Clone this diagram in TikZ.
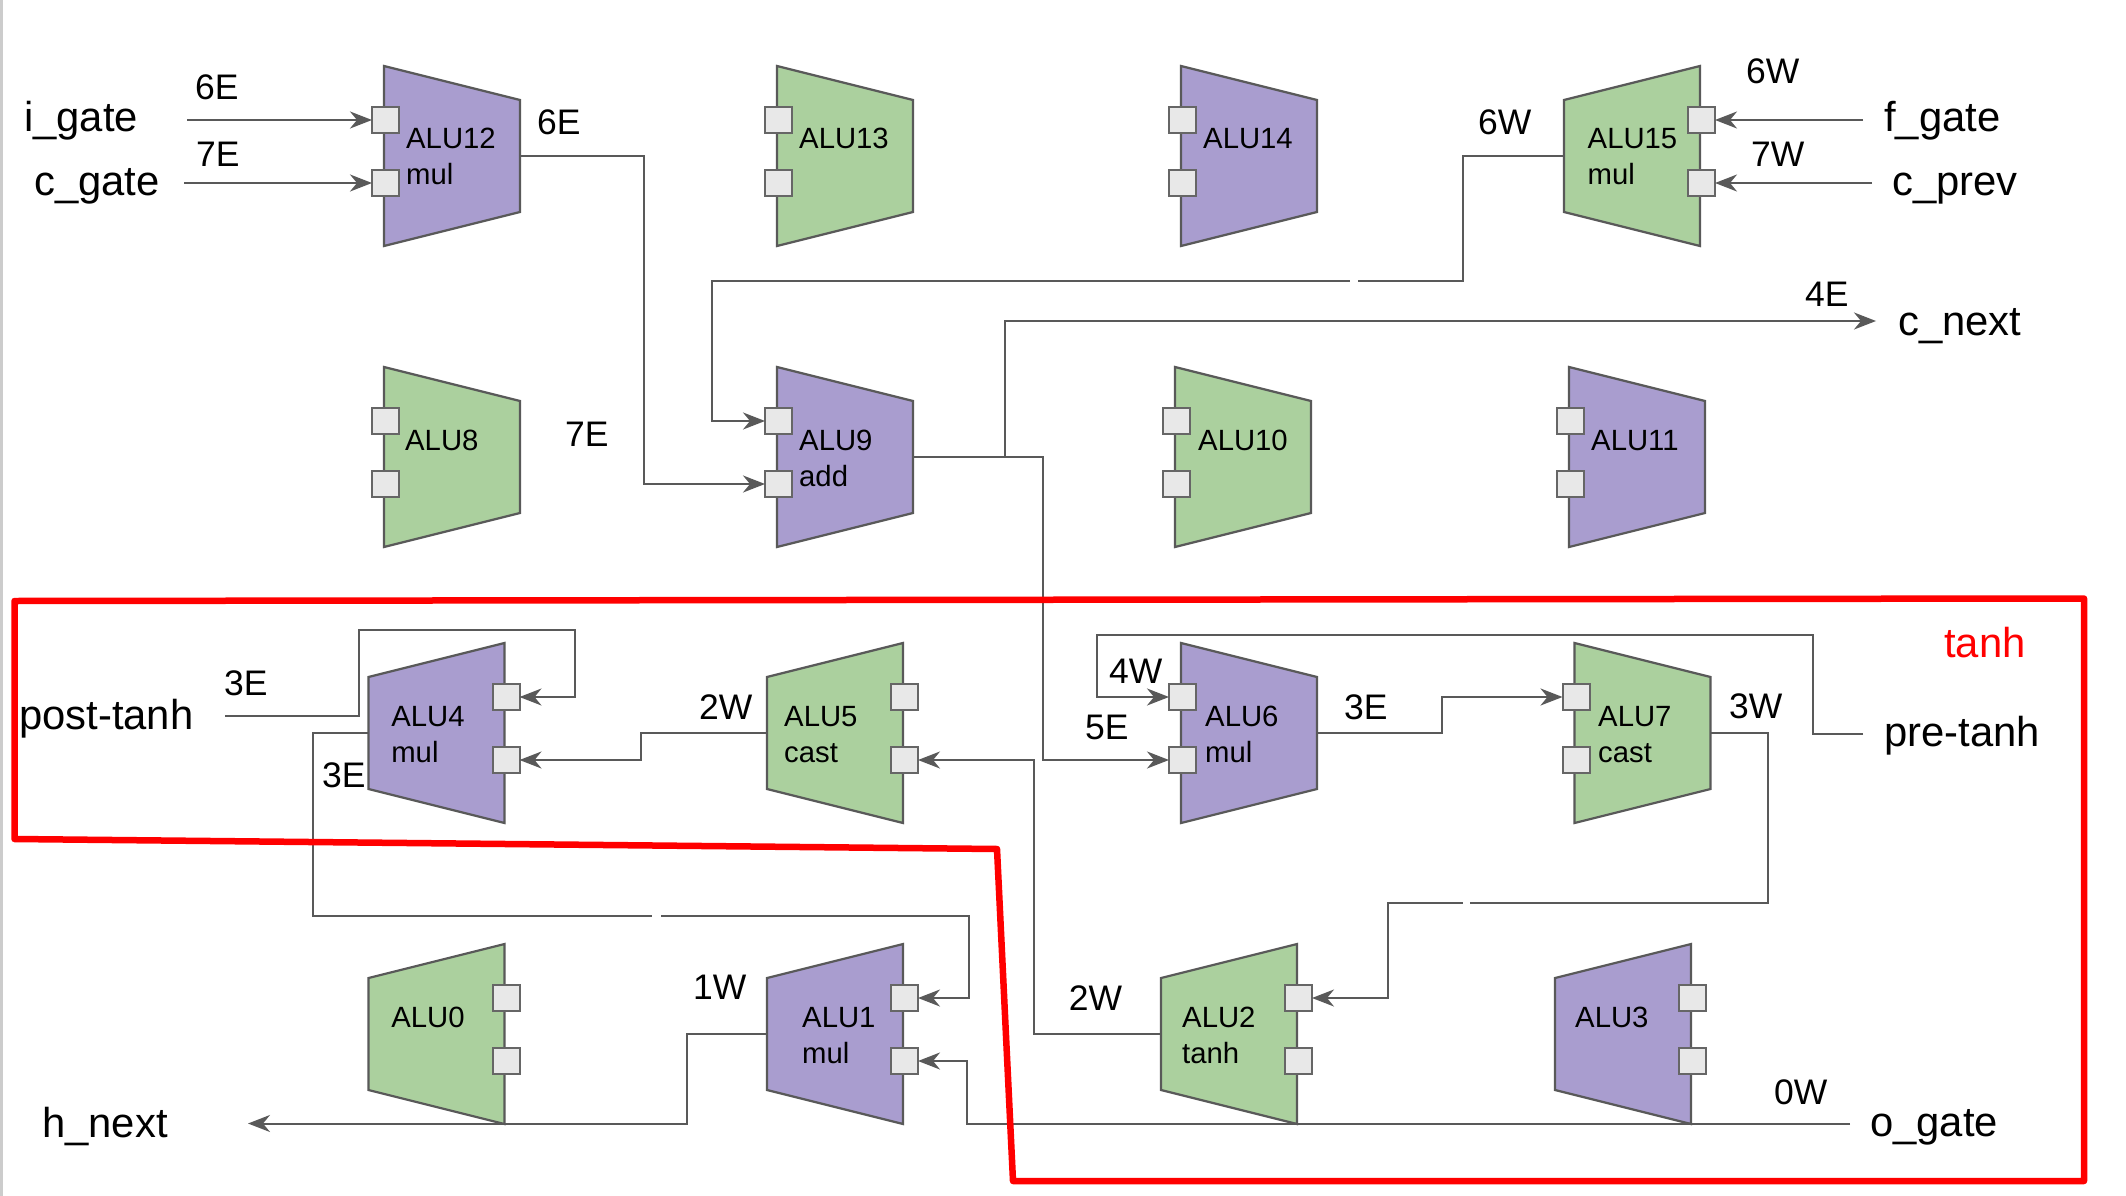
\documentclass[tikz,border=0pt]{standalone}
\usepackage{fontspec}
\setmainfont{Liberation Sans}
\usetikzlibrary{arrows.meta}

\definecolor{alupurple}{RGB}{169,157,207}
\definecolor{alugreen}{RGB}{171,208,158}
\definecolor{edgegray}{RGB}{89,89,89}
\definecolor{wiregray}{RGB}{89,89,89}
\definecolor{portfill}{RGB}{232,232,232}
\definecolor{portgray}{RGB}{102,102,102}
\definecolor{framegray}{RGB}{204,204,204}
\definecolor{tanhred}{RGB}{255,0,0}

\tikzset{
  alubody/.style={draw=edgegray, line width=2.2pt, line join=miter},
  port/.style={draw=portgray, fill=portfill, line width=2pt,
    minimum width=27pt, minimum height=25.5pt, inner sep=0pt, outer sep=0pt},
  alutext/.style={font=\fontsize{29.3}{31}\selectfont, anchor=base west, inner sep=0pt},
  wire/.style={draw=wiregray, line width=2pt},
  arr/.style={-{Stealth[length=22pt,width=17pt,inset=7pt]}},
  iolabel/.style={font=\fontsize{41.8}{46}\selectfont, anchor=base west, inner sep=0pt},
  wirelabel/.style={font=\fontsize{35.5}{39}\selectfont, anchor=base west, inner sep=0pt},
  tanhline/.style={draw=tanhred, line width=6.5pt, line join=round},
}

% ALU block: #1 name, #2 x of the tall side, #3 top y,
% #4 1 = inputs on the left, -1 = inputs on the right,
% #5 fill, #6 text inset from the left side, #7 first line, #8 second line
\newcommand{\alublock}[8]{%
  \draw[alubody, fill=#5] (#2,#3) -- ++({(#4)*136},34) -- ++(0,112)
    -- ++({-(#4)*136},34) -- cycle;
  \node[port] (#1p1) at ({#2+1.5},{#3+54}) {};
  \node[port] (#1p2) at ({#2+1.5},{#3+117}) {};
  \coordinate (#1o) at ({#2+(#4)*136},{#3+90});
  \node[alutext] (#1t) at ({#2+((#4)-1)*68+#6},{#3+83}) {#7};
  \if\relax\detokenize{#8}\relax\else
    \node[alutext] (#1u) at ({#2+((#4)-1)*68+#6},{#3+119}) {#8};
  \fi
}

\begin{document}
\begin{tikzpicture}[x=1pt,y=-1pt]
\useasboundingbox (0,0) rectangle (2126,1196);
\fill[white] (0,0) rectangle (2126,1196);
\draw[framegray, line width=3pt] (1.5,0) -- (1.5,1196);

% row 1
\alublock{a12}{384}{66}{1}{alupurple}{22}{ALU12}{mul}
\alublock{a13}{777}{66}{1}{alugreen}{22}{ALU13}{}
\alublock{a14}{1181}{66}{1}{alupurple}{22}{ALU14}{}
\alublock{a15}{1700}{66}{-1}{alugreen}{23.5}{ALU15}{mul}
% row 2
\alublock{a8}{384}{367}{1}{alugreen}{21}{ALU8}{}
\alublock{a9}{777}{367}{1}{alupurple}{22}{ALU9}{add}
\alublock{a10}{1175}{367}{1}{alugreen}{23}{ALU10}{}
\alublock{a11}{1569}{367}{1}{alupurple}{22}{ALU11}{}
% row 3
\alublock{a4}{504.5}{643}{-1}{alupurple}{22.6}{ALU4}{mul}
\alublock{a5}{903}{643}{-1}{alugreen}{17}{ALU5}{cast}
\alublock{a6}{1181}{643}{1}{alupurple}{24}{ALU6}{mul}
\alublock{a7}{1574.5}{643}{1}{alugreen}{23.5}{ALU7}{cast}
% row 4
\alublock{a0}{504.5}{944}{-1}{alugreen}{22.6}{ALU0}{}
\alublock{a1}{903}{944}{-1}{alupurple}{35}{ALU1}{mul}
\alublock{a2}{1297}{944}{-1}{alugreen}{21}{ALU2}{tanh}
\alublock{a3}{1691}{944}{-1}{alupurple}{20}{ALU3}{}

% outside inputs and outputs
\node[iolabel] (igate) at (24,132) {i\_gate};
\node[iolabel] (cgate) at (34,195) {c\_gate};
\node[iolabel] (fgate) at (1884,132) {f\_gate};
\node[iolabel] (cprev) at (1892,195) {c\_prev};
\node[iolabel] (cnext) at (1898,335) {c\_next};
\node[iolabel] (pretanh) at (1884,746.5) {pre-tanh};
\node[iolabel] (posttanh) at (19,729) {post-tanh};
\node[iolabel] (hnext) at (42,1137) {h\_next};
\node[iolabel] (ogate) at (1870,1136) {o\_gate};
\node[iolabel, text=tanhred] (tanhtag) at (1944,657.5) {tanh};

\coordinate (ig) at (187,120);
\coordinate (cg) at (184,183);
\coordinate (fg) at (1863,120);
\coordinate (cp) at (1872,183);
\coordinate (cn) at (1876,321);
\coordinate (pt) at (1863,734);
\coordinate (ptn) at (225,716);
\coordinate (hn) at (248,1123.5);
\coordinate (og) at (1850,1123.5);
\coordinate (g1r) at (1357.5,280.5);
\coordinate (g1l) at (1349.5,280.5);
\coordinate (g2r) at (1470,903);
\coordinate (g2l) at (1462.5,903);
\coordinate (g3l) at (652,916);
\coordinate (g3r) at (661,916);

% connectors
\draw[wire,arr] (ig) -- (a12p1);
\draw[wire,arr] (cg) -- (a12p2);
\draw[wire,arr] (a12o) -- ++(124,0) |- (a9p2);
\draw[wire] (a15o) -- ++(-101.5,0) |- (g1r);
\draw[wire,arr] (g1l) -- (711.5,280.5) |- (a9p1);
\draw[wire,arr] (fg) -- (a15p1);
\draw[wire,arr] (cp) -- (a15p2);
\draw[wire,arr] (a9o) -- ++(92,0) |- (cn);
\draw[wire,arr] (a9o) -- ++(129.5,0) |- (a6p2);
\draw[wire,arr] (pt) -- ++(-50,0) |- (1097,634.5) |- (a6p1);
\draw[wire,arr] (a6o) -- ++(124.7,0) |- (a7p1);
\draw[wire] (a7o) -- ++(57.5,0) |- (g2r);
\draw[wire,arr] (g2l) -- (1387.5,903) |- (a2p1);
\draw[wire,arr] (a2o) -- ++(-127.5,0) |- (a5p2);
\draw[wire,arr] (a5o) -- ++(-126.4,0) |- (a4p2);
\draw[wire,arr] (ptn) -- ++(134,0) |- (575,630) |- (a4p1);
\draw[wire] (a4o) -- ++(-55.5,0) |- (g3l);
\draw[wire,arr] (g3r) -- (969,916) |- (a1p1);
\draw[wire,arr] (a1o) -- ++(-80.4,0) |- (hn);
\draw[wire,arr] (og) -- (967,1123.5) |- (a1p2);

% wire labels
\node[wirelabel] (l6e) at (195,99.5) {6E};
\node[wirelabel] (l7e) at (196,166.5) {7E};
\node[wirelabel] (l6eo) at (537,134.7) {6E};
\node[wirelabel] (l7eb) at (565,446) {7E};
\node[wirelabel] (l6wo) at (1478,134.7) {6W};
\node[wirelabel] (l6w) at (1746,84) {6W};
\node[wirelabel] (l7w) at (1751,166.5) {7W};
\node[wirelabel] (l4e) at (1805,306) {4E};
\node[wirelabel] (l3ep) at (224,695) {3E};
\node[wirelabel] (l3eo) at (322,787) {3E};
\node[wirelabel] (l2w) at (699,719.5) {2W};
\node[wirelabel] (l4w) at (1109,683) {4W};
\node[wirelabel] (l5e) at (1085,739) {5E};
\node[wirelabel] (l3e) at (1344,719.5) {3E};
\node[wirelabel] (l3w) at (1729,718.5) {3W};
\node[wirelabel] (l1w) at (693,999) {1W};
\node[wirelabel] (l2wt) at (1068.6,1010) {2W};
\node[wirelabel] (l0w) at (1774,1104) {0W};

% tanh region
\draw[tanhline] (14.5,601) -- (2084,598.5) -- (2084,1181) -- (1013,1181)
  -- (997,849) -- (14.5,839) -- cycle;
\end{tikzpicture}
\end{document}
